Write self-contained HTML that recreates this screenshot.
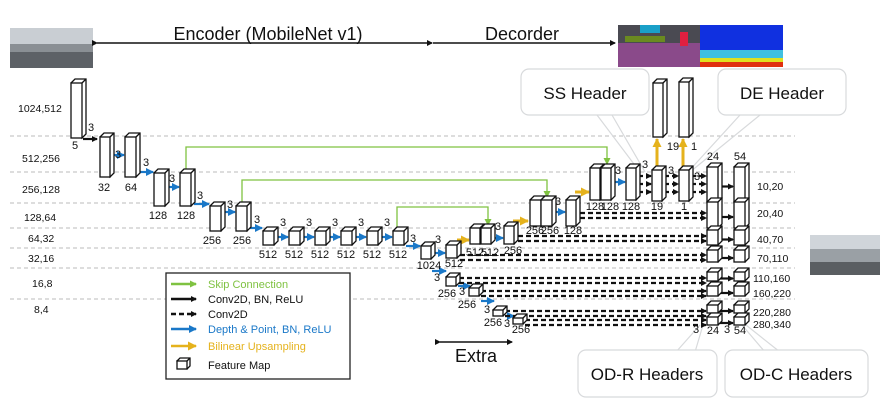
<!DOCTYPE html>
<html><head><meta charset="utf-8"><style>
html,body{margin:0;padding:0;background:#fff;width:892px;height:401px;overflow:hidden}
svg{display:block}
text{font-family:"Liberation Sans","DejaVu Sans",sans-serif;fill:#111}
.s{font-size:11px}
.l{font-size:10.5px}
</style></head><body>
<svg id="g" width="892" height="401" viewBox="0 0 892 401" xmlns="http://www.w3.org/2000/svg">
<defs>
<marker id="mk" markerWidth="6" markerHeight="6" refX="5" refY="3" orient="auto" markerUnits="userSpaceOnUse"><path d="M0,0L6,3L0,6z" fill="#111"/></marker>
<marker id="mb" markerWidth="8" markerHeight="8" refX="7" refY="4" orient="auto" markerUnits="userSpaceOnUse"><path d="M0,0L8,4L0,8z" fill="#1a78c8"/></marker>
<marker id="my" markerWidth="9" markerHeight="9" refX="8" refY="4.5" orient="auto" markerUnits="userSpaceOnUse"><path d="M0,0L9,4.5L0,9z" fill="#e5b21c"/></marker>
<marker id="mg" markerWidth="7" markerHeight="7" refX="6" refY="3.5" orient="auto" markerUnits="userSpaceOnUse"><path d="M0,0L7,3.5L0,7z" fill="#7fc241"/></marker>
</defs>
<g stroke="#bbb" stroke-dasharray="4,3" stroke-width="1">
<line x1="10" y1="136" x2="795" y2="136"/><line x1="10" y1="172" x2="795" y2="172"/><line x1="10" y1="203" x2="795" y2="203"/><line x1="10" y1="228" x2="795" y2="228"/><line x1="10" y1="248" x2="795" y2="248"/><line x1="10" y1="268" x2="795" y2="268"/><line x1="10" y1="299" x2="795" y2="299"/>
</g>
<!-- images -->
<rect x="10" y="28" width="83" height="40" fill="#8a8f94"/><rect x="10" y="28" width="83" height="16" fill="#c9ced3"/><rect x="10" y="52" width="83" height="16" fill="#5d6166"/>
<rect x="618" y="25" width="82" height="42" fill="#8a4a8a"/><rect x="618" y="25" width="82" height="18" fill="#4a4a52"/><rect x="640" y="25" width="20" height="8" fill="#1aa0c8"/><rect x="680" y="32" width="8" height="14" fill="#e02040"/><rect x="625" y="36" width="40" height="6" fill="#6a8a20"/>
<rect x="700" y="25" width="83" height="42" fill="#1030e0"/><rect x="700" y="50" width="83" height="8" fill="#40c0e0"/><rect x="700" y="58" width="83" height="5" fill="#e0e020"/><rect x="700" y="62" width="83" height="5" fill="#e03010"/>
<rect x="810" y="235" width="70" height="40" fill="#9aa0a5"/><rect x="810" y="235" width="70" height="14" fill="#d0d5da"/><rect x="810" y="262" width="70" height="13" fill="#5a5e62"/>
<!-- top arrows -->
<text x="268" y="40" text-anchor="middle" font-size="18">Encoder (MobileNet v1)</text>
<text x="522" y="40" text-anchor="middle" font-size="18">Decorder</text>
<g stroke="#111" stroke-width="1.5" fill="none"><line x1="97" y1="43" x2="432" y2="43" marker-end="url(#mk)" marker-start="url(#mk)"/><line x1="433" y1="43" x2="615" y2="43" marker-end="url(#mk)"/>
<line x1="440" y1="342" x2="512" y2="342" marker-end="url(#mk)" marker-start="url(#mk)"/></g>
<text x="476" y="362" text-anchor="middle" font-size="18">Extra</text>
<!-- callouts -->
<g fill="#fff" stroke="#d8dadc" stroke-width="1.2">
<path d="M597,115 L640,172 M612,115 L645,172 M760,115 L690,172 M740,115 L688,172 M676,352 L700,325 M695,352 L703,325 M765,352 L742,325 M780,352 L746,325"/>
<rect x="521" y="69" width="128" height="46" rx="8"/><rect x="718" y="69" width="128" height="46" rx="8"/>
<rect x="578" y="350" width="139" height="47" rx="8"/><rect x="725" y="350" width="143" height="47" rx="8"/>
</g>
<text x="585" y="99" text-anchor="middle" font-size="17">SS Header</text>
<text x="782" y="99" text-anchor="middle" font-size="17">DE Header</text>
<text x="647" y="380" text-anchor="middle" font-size="17">OD-R Headers</text>
<text x="796" y="380" text-anchor="middle" font-size="17">OD-C Headers</text>
<!-- green skips -->
<g stroke="#7fc241" stroke-width="1.3" fill="none">
<path d="M186,172 V147 H607 V164" marker-end="url(#mg)"/>
<path d="M242,205 V180 H547 V197" marker-end="url(#mg)"/>
<path d="M397,230 V207 H488 V225" marker-end="url(#mg)"/>
</g>
<g id="conn"></g>
<g id="boxes"></g>
<!-- labels -->
<g class="l">
<text x="18" y="112">1024,512</text><text x="22" y="162">512,256</text><text x="22" y="193">256,128</text><text x="24" y="221">128,64</text><text x="28" y="242">64,32</text><text x="28" y="262">32,16</text><text x="32" y="287">16,8</text><text x="34" y="313">8,4</text>
<text x="757" y="190">10,20</text><text x="757" y="217">20,40</text><text x="757" y="243">40,70</text><text x="757" y="262">70,110</text><text x="753" y="282">110,160</text><text x="753" y="297">160,220</text><text x="753" y="316">220,280</text><text x="753" y="328">280,340</text>
</g>
<g class="s" text-anchor="middle">
<text x="75" y="149">5</text><text x="91" y="131">3</text><text x="104" y="191">32</text><text x="131" y="191">64</text><text x="118" y="158">3</text><text x="146" y="166">3</text>
<text x="158" y="219">128</text><text x="186" y="219">128</text><text x="172" y="182">3</text><text x="200" y="199">3</text>
<text x="212" y="244">256</text><text x="242" y="244">256</text><text x="230" y="208">3</text><text x="257" y="223">3</text>
<text x="268" y="258">512</text><text x="294" y="258">512</text><text x="320" y="258">512</text><text x="346" y="258">512</text><text x="372" y="258">512</text><text x="398" y="258">512</text>
<text x="283" y="226">3</text><text x="309" y="226">3</text><text x="335" y="226">3</text><text x="361" y="226">3</text><text x="387" y="226">3</text><text x="413" y="242">3</text>
<text x="429" y="269">1024</text><text x="438" y="243">3</text><text x="454" y="267">512</text>
<text x="437" y="281">3</text><text x="447" y="297">256</text><text x="462" y="295">3</text><text x="467" y="308">256</text><text x="487" y="313">3</text><text x="493" y="326">256</text><text x="507" y="327">3</text><text x="521" y="333">256</text>
<text x="475" y="256">512</text><text x="490" y="256">512</text><text x="498" y="230">3</text><text x="513" y="254">256</text>
<text x="535" y="234">256</text><text x="550" y="234">256</text><text x="558" y="205">3</text><text x="573" y="234">128</text>
<text x="595" y="210">128</text><text x="610" y="210">128</text><text x="618" y="174">3</text><text x="631" y="210">128</text>
<text x="657" y="210">19</text><text x="684" y="210">1</text><text x="645" y="168">3</text><text x="671" y="174">3</text><text x="697" y="180">3</text>
<text x="673" y="150">19</text><text x="694" y="150">1</text><text x="713" y="160">24</text><text x="740" y="160">54</text>
<text x="696" y="333">3</text><text x="713" y="334">24</text><text x="727" y="333">3</text><text x="740" y="334">54</text>
</g>
<!-- legend -->
<rect x="166" y="273" width="184" height="106" fill="#fff" stroke="#222" stroke-width="1.3"/>
<g stroke-width="2.5" fill="none">
<line x1="171" y1="284" x2="196" y2="284" stroke="#7fc241" marker-end="url(#mg)"/>
<line x1="171" y1="299" x2="196" y2="299" stroke="#111" marker-end="url(#mk)"/>
<line x1="171" y1="314" x2="196" y2="314" stroke="#111" stroke-dasharray="5,3" marker-end="url(#mk)"/>
<line x1="171" y1="329" x2="196" y2="329" stroke="#1a78c8" marker-end="url(#mb)"/>
<line x1="171" y1="346" x2="196" y2="346" stroke="#e5b21c" marker-end="url(#my)"/>
</g>
<g fill="#fff" stroke="#111" stroke-width="1.3"><path d="M177,361 l3,-3 h10 v8 l-3,3 z"/><rect x="177" y="361" width="10" height="8"/><path d="M187,361 l3,-3" fill="none"/></g>
<g font-size="11"><text x="208" y="288" style="fill:#7fc241">Skip Connection</text><text x="208" y="303">Conv2D, BN, ReLU</text><text x="208" y="318">Conv2D</text><text x="208" y="333" style="fill:#1a78c8">Depth &amp; Point, BN, ReLU</text><text x="208" y="350" style="fill:#e5b21c">Bilinear Upsampling</text><text x="208" y="369">Feature Map</text></g>
</svg>
<script>
var NS="http://www.w3.org/2000/svg",B=document.getElementById("boxes"),C=document.getElementById("conn");
function el(p,t,a){var e=document.createElementNS(NS,t);for(var k in a)e.setAttribute(k,a[k]);p.appendChild(e);return e;}
function box(x,y,w,h){var d=4;el(B,"path",{d:"M"+x+","+y+"l"+d+",-"+d+"h"+w+"v"+h+"l-"+d+","+d+"z",fill:"#fff",stroke:"#111","stroke-width":1.3});
el(B,"path",{d:"M"+(x+w)+","+y+"l"+d+",-"+d+"M"+(x+w)+","+y,fill:"none",stroke:"#111","stroke-width":1.3});
el(B,"rect",{x:x,y:y,width:w,height:h,fill:"#fff",stroke:"#111","stroke-width":1.3});}
function ar(x1,y1,x2,y2,c,ds){var m={b:"#1a78c8",k:"#111",y:"#e5b21c"}[c];var mk={b:"mb",k:"mk",y:"my"}[c];
var a={x1:x1,y1:y1,x2:x2,y2:y2,stroke:m,"stroke-width":c=="y"?3:2.2,"marker-end":"url(#"+mk+")"};if(ds)a["stroke-dasharray"]="5,3";el(C,"line",a);}
box(71,83,11,55);box(100,137,10,40);box(125,137,11,40);box(154,173,11,33);box(180,173,11,33);
box(210,206,11,25);box(236,206,11,25);
[263,289,315,341,367,393].forEach(function(x){box(x,231,11,14);});
box(421,246,10,13);box(446,245,11,13);box(446,277,10,9);box(469,288,10,8);box(493,310,10,6);box(513,318,10,6);
ar(83,139,97,139,"k");ar(112,155,124,155,"b");ar(139,172,153,172,"b");ar(167,187,179,187,"b");ar(194,204,209,204,"b");ar(223,212,235,212,"b");ar(249,228,262,228,"b");
[276,302,328,354,380].forEach(function(x){ar(x,237,x+12,237,"b");});ar(406,246,420,246,"b");ar(434,253,445,253,"b");
ar(432,271,446,271,"b");ar(458,286,470,286,"b");ar(481,301,494,301,"b");ar(505,316,514,316,"b");
ar(457,240,469,240,"y");box(470,228,10,16);box(481,228,10,16);ar(493,238,503,238,"b");box(504,226,10,18);
ar(513,221,528,221,"y");box(530,200,11,26);box(541,200,11,26);ar(554,212,565,212,"b");box(566,200,10,26);
ar(575,192,589,192,"y");box(590,168,10,32);box(601,168,10,32);ar(613,182,625,182,"b");box(626,168,10,32);
box(652,170,10,31);box(679,170,10,31);box(653,83,10,54);box(679,82,10,55);
ar(657,168,657,139,"y");ar(683,168,683,139,"y");
[176,184,192].forEach(function(y){ar(638,y,651,y,"k",1);ar(664,y,678,y,"k",1);ar(691,y,706,y,"k",1);});
var rows=[[167,35],[202,26],[230,15],[250,12],[272,9],[286,10],[305,8],[317,8]];
rows.forEach(function(r){box(707,r[0],11,r[1]);box(734,r[0],11,r[1]);ar(720,r[0]+r[1]/2+2,733,r[0]+r[1]/2+2,"k");});
[[580,213],[518,236],[460,255],[459,278],[481,291],[505,311],[525,320]].forEach(function(s,i){ar(s[0],s[1],706,s[1],"k",1);ar(s[0],s[1]+5,706,s[1]+5,"k",1);});
</script>
</body></html>
